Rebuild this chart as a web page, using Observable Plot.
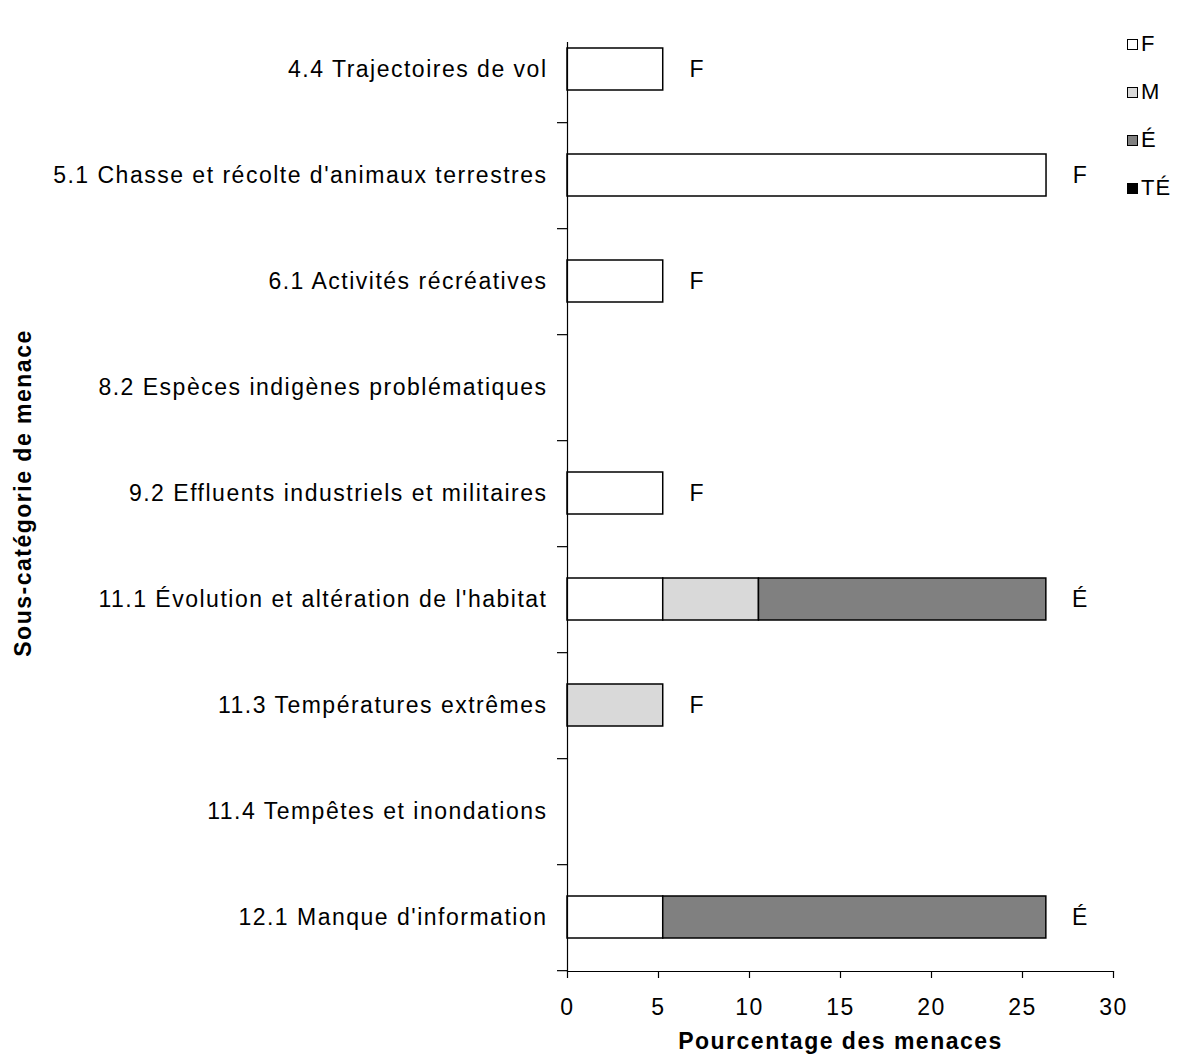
<!DOCTYPE html>
<html>
<head>
<meta charset="utf-8">
<script src="https://cdn.jsdelivr.net/npm/d3@7"></script>
<script src="https://cdn.jsdelivr.net/npm/@observablehq/plot@0.6"></script>
<style>
  html, body { margin: 0; padding: 0; background: #fff; }
  #wrap { position: relative; width: 1180px; height: 1057px; font-family: "Liberation Sans", Arial, sans-serif; }
  #wrap svg { font-family: "Liberation Sans", Arial, sans-serif; }
  #wrap svg text { letter-spacing: 1.5px; }
  g[aria-label="x-axis label"] text, g[aria-label="y-axis label"] text { font-weight: bold; font-size: 23px; }
  #legend { position: absolute; left: 1127px; top: 31px; font-size: 22px; color: #000; letter-spacing: 1px;
            display: flex; flex-direction: column; gap: 22px; }
  #legend .row { display: flex; align-items: center; height: 26px; }
  #legend .sw { width: 9px; height: 9px; border: 1px solid #000; margin-right: 3px; box-sizing: content-box; }
</style>
</head>
<body>
<div id="wrap"></div>
<script>
const categories = [
  "4.4 Trajectoires de vol",
  "5.1 Chasse et récolte d'animaux terrestres",
  "6.1 Activités récréatives",
  "8.2 Espèces indigènes problématiques",
  "9.2 Effluents industriels et militaires",
  "11.1 Évolution et altération de l'habitat",
  "11.3 Températures extrêmes",
  "11.4 Tempêtes et inondations",
  "12.1 Manque d'information"
];
const levels = ["F", "M", "É", "TÉ"];
const levelColors = ["#ffffff", "#d9d9d9", "#808080", "#000000"];
const valuesF  = [5.26, 26.32, 5.26, 0, 5.26, 5.26, 0, 0, 5.26];
const valuesM  = [0, 0, 0, 0, 0, 5.26, 5.26, 0, 0];
const valuesE  = [0, 0, 0, 0, 0, 15.79, 0, 0, 21.05];
const valuesTE = [0, 0, 0, 0, 0, 0, 0, 0, 0];
const endLabels = ["F", "F", "F", "", "F", "É", "F", "", "É"];
const xTicks = [0, 5, 10, 15, 20, 25, 30];

const series = [valuesF, valuesM, valuesE, valuesTE];
const rows = [];
categories.forEach((c, i) => {
  series.forEach((s, k) => {
    if (s[i] > 0) rows.push({cat: c, level: levels[k], value: s[i]});
  });
});
const totals = categories.map((c, i) => ({
  cat: c,
  total: series.reduce((a, s) => a + s[i], 0),
  label: endLabels[i]
})).filter(d => d.label);

const W = 1180, H = 1057, mT = 14, mB = 86, mL = 567, mR = 67;
const step = (H - mT - mB) / categories.length;

const chart = Plot.plot({
  width: W,
  height: H,
  marginTop: mT,
  marginBottom: mB,
  marginLeft: mL,
  marginRight: mR,
  style: {fontSize: "23px", fontFamily: "Liberation Sans, Arial, sans-serif", color: "#000", background: "#fff"},
  x: {domain: [0, 30]},
  y: {domain: categories, paddingInner: 0.605, paddingOuter: 0.3025},
  color: {domain: levels, range: levelColors},
  marks: [
    Plot.barX(rows, {x: "value", y: "cat", fill: "level", stroke: "#000", strokeWidth: 1.5}),
    Plot.text(totals, {x: "total", y: "cat", text: "label", dx: 34, fontSize: 23, fill: "#000"}),
    Plot.ruleX([0], {insetTop: 28, stroke: "#000", strokeWidth: 1.2}),
    Plot.frame({anchor: "bottom", stroke: "#000", strokeWidth: 1.2}),
    Plot.ruleY(categories, {y: d => d, x1: -0.55, x2: 0, dy: step / 2, stroke: "#000", strokeWidth: 1.2}),
    Plot.axisY({tickSize: 0, tickPadding: 20, fontSize: 23, label: "Sous-catégorie de menace", labelAnchor: "center", labelArrow: "none", labelOffset: 553}),
    Plot.axisX({ticks: xTicks, tickSize: 7, tickPadding: 20, fontSize: 23, tickFormat: d => String(d), label: "Pourcentage des menaces", labelAnchor: "center", labelArrow: "none", labelOffset: 77, strokeWidth: 1.2})
  ]
});
const wrap = document.getElementById("wrap");
wrap.appendChild(chart);

const legend = document.createElement("div");
legend.id = "legend";
levels.forEach((l, k) => {
  const r = document.createElement("div");
  r.className = "row";
  const sw = document.createElement("span");
  sw.className = "sw";
  sw.style.background = levelColors[k];
  const t = document.createElement("span");
  t.textContent = l;
  r.appendChild(sw);
  r.appendChild(t);
  legend.appendChild(r);
});
wrap.appendChild(legend);
</script>
</body>
</html>
